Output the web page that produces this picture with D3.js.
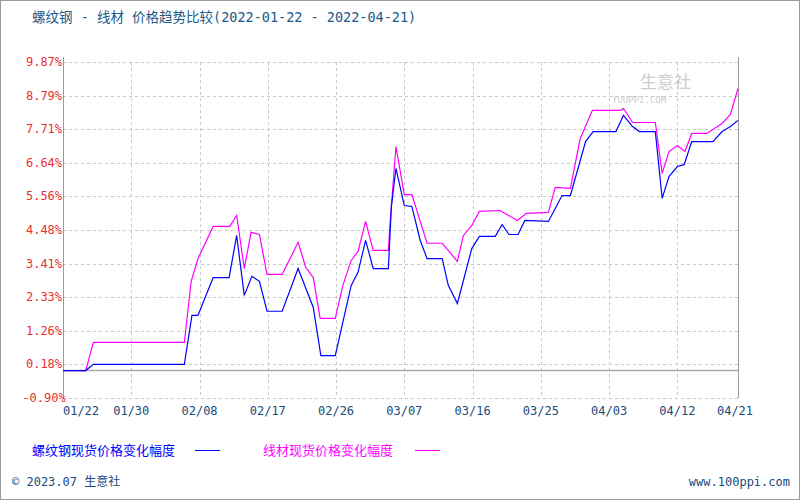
<!DOCTYPE html>
<html><head><meta charset="utf-8">
<script src="https://cdn.jsdelivr.net/npm/d3@7"></script>
<style>body{margin:0;background:#fff}svg{display:block}</style>
</head><body>
<script>
const title = "螺纹钢 - 线材 价格趋势比较(2022-01-22 - 2022-04-21)";
const seriesNames = ["螺纹钢现货价格变化幅度", "线材现货价格变化幅度"];
const yTicks = [-0.90, 0.18, 1.26, 2.33, 3.41, 4.48, 5.56, 6.64, 7.71, 8.79, 9.87];
const xTickDays = [0, 9, 18, 27, 36, 45, 54, 63, 72, 81, 89];
const xTickLabels = ["01/22","01/30","02/08","02/17","02/26","03/07","03/16","03/25","04/03","04/12","04/21"];
// [day index, % change]
const rebar = [[0,-0.02],[3,-0.02],[4,0.18],[16,0.18],[17,1.75],[17.8,1.75],[19.8,2.96],[21.9,2.96],[22.9,4.31],[23.9,2.39],[24.9,3.0],[25.9,2.84],[26.9,1.88],[28.9,1.88],[31,3.25],[33,2.0],[34,0.46],[35.9,0.46],[38,2.71],[38.9,3.13],[39.9,4.15],[40.9,3.25],[42.9,3.25],[43.3,5.24],[43.9,6.46],[45,5.27],[46,5.24],[47.1,4.15],[48,3.57],[50,3.57],[50.8,2.71],[52,2.13],[53.9,3.89],[54.9,4.28],[57,4.28],[57.9,4.66],[58.8,4.34],[60,4.34],[60.9,4.79],[64,4.76],[65.8,5.59],[66.9,5.59],[68.9,7.32],[69.9,7.64],[72.9,7.64],[73.9,8.16],[75.1,7.8],[76,7.64],[78.1,7.64],[79,5.5],[79.9,6.2],[81,6.52],[81.9,6.58],[82.9,7.32],[85.7,7.32],[86.9,7.64],[88,7.8],[89,8.0]];
const wire = [[0,-0.02],[3,-0.02],[4,0.88],[16,0.88],[16.9,2.84],[17.8,3.57],[19.8,4.6],[22,4.6],[22.9,4.95],[23.9,3.25],[24.8,4.41],[25.9,4.34],[26.9,3.06],[28.9,3.06],[31,4.09],[32,3.29],[33,2.96],[33.9,1.65],[35.9,1.65],[36.9,2.71],[38,3.51],[38.9,3.8],[39.9,4.76],[40.9,3.83],[42.9,3.83],[43.1,4.63],[43.9,7.16],[45,5.62],[46,5.62],[48,4.06],[50,4.06],[52,3.48],[52.8,4.31],[53.9,4.63],[54.9,5.08],[57.6,5.11],[59.9,4.79],[61.1,5.02],[64,5.05],[64.9,5.85],[66.9,5.82],[68.2,7.42],[69.8,8.32],[73.5,8.32],[73.9,8.38],[75.1,7.93],[78.1,7.93],[79,6.3],[79.9,7.0],[81,7.19],[82,7.0],[82.9,7.58],[84.9,7.58],[86.9,7.9],[88,8.19],[89,9.02]];

const W=800,H=500;
const svg=d3.select("body").append("svg").attr("width",W).attr("height",H).style("font-family","'DejaVu Sans Mono','Noto Sans CJK SC',monospace");
svg.append("rect").attr("x",0.5).attr("y",0.5).attr("width",W-1).attr("height",H-1).attr("fill","#fff").attr("stroke","#999");
const L=63,R=738,T=62,B=398;
const x=d3.scaleLinear().domain([0,89]).range([L,R]);
const y=d3.scaleLinear().domain([-0.90,9.87]).range([B,T]);

svg.append("text").attr("x",32).attr("y",22).attr("fill","#1a5a8a").attr("font-size",13.5).style("font-family","'DejaVu Sans Mono','Noto Sans CJK SC'").text(title);

// grid
svg.append("g").selectAll("line").data(yTicks).join("line")
 .attr("x1",L).attr("x2",R).attr("y1",d=>Math.round(y(d))+0.5).attr("y2",d=>Math.round(y(d))+0.5)
 .attr("stroke","#c8c8c8").attr("stroke-dasharray","3,3");
svg.append("g").selectAll("line").data(xTickDays.slice(1,-1)).join("line")
 .attr("x1",d=>Math.round(x(d))+0.5).attr("x2",d=>Math.round(x(d))+0.5).attr("y1",T).attr("y2",B)
 .attr("stroke","#c8c8c8").attr("stroke-dasharray","3,3");
svg.append("line").attr("x1",L+0.5).attr("x2",L+0.5).attr("y1",T-5).attr("y2",B).attr("stroke","#999");
svg.append("line").attr("x1",R+0.5).attr("x2",R+0.5).attr("y1",T-5).attr("y2",B).attr("stroke","#999");
svg.append("line").attr("x1",L).attr("x2",R).attr("y1",Math.round(y(0))+0.5).attr("y2",Math.round(y(0))+0.5).attr("stroke","#aaa").attr("stroke-width",1.5);

// watermark
svg.append("text").attr("x",640).attr("y",88).attr("fill","#ccc").attr("font-size",17).style("font-family","'Noto Sans CJK SC'").text("生意社");
svg.append("text").attr("x",612).attr("y",103).attr("fill","#ccc").attr("font-size",9).text("YUUPPI.COM");

// labels
svg.append("g").selectAll("text").data(yTicks).join("text")
 .attr("x",44).attr("y",d=>y(d)+4).attr("text-anchor","middle").attr("fill","#e83030").attr("font-size",12).text(d=>d.toFixed(2)+"%");
svg.append("g").selectAll("text").data(xTickDays).join("text")
 .attr("x",(d,i)=>i==0?L+18:(i==xTickDays.length-1?R-3:x(d))).attr("y",415).attr("text-anchor","middle").attr("fill","#1a4a7a").attr("font-size",12).text((d,i)=>xTickLabels[i]);

const line=d3.line().x(d=>x(d[0])).y(d=>y(d[1]));
svg.append("path").datum(wire).attr("d",line).attr("fill","none").attr("stroke","#ff00ff").attr("stroke-width",1.2);
svg.append("path").datum(rebar).attr("d",line).attr("fill","none").attr("stroke","#0000ff").attr("stroke-width",1.2);

// legend
const lg=[{t:seriesNames[0],c:"#0000ff",tx:32,lx:195},{t:seriesNames[1],c:"#ff00ff",tx:263,lx:415}];
lg.forEach(o=>{
 svg.append("text").attr("x",o.tx).attr("y",455).attr("fill",o.c).attr("font-size",13).style("font-family","'Noto Sans CJK SC'").text(o.t);
 svg.append("line").attr("x1",o.lx).attr("x2",o.lx+25).attr("y1",450.5).attr("y2",450.5).attr("stroke",o.c);
});
svg.append("text").attr("x",12).attr("y",486).attr("fill","#1a4a7a").attr("font-size",12).style("font-family","'DejaVu Sans Mono','Noto Sans CJK SC'").text("© 2023.07 生意社");
svg.append("text").attr("x",790).attr("y",486).attr("text-anchor","end").attr("fill","#1a4a7a").attr("font-size",12).text("www.100ppi.com");
</script>
</body></html>
